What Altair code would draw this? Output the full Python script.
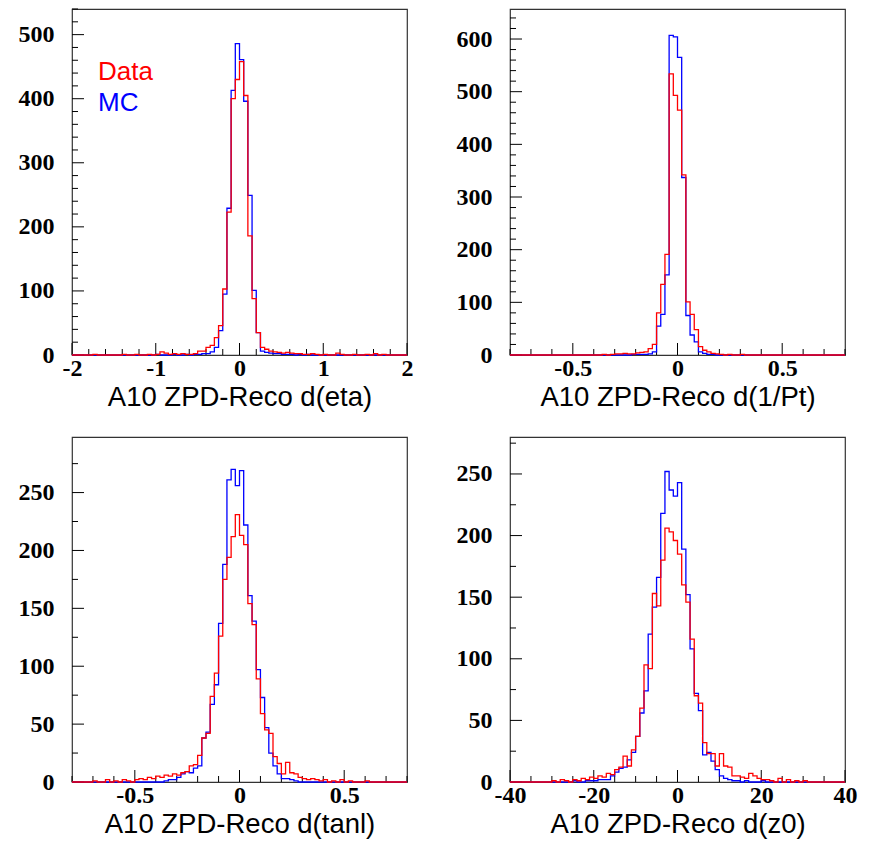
import altair as alt
import pandas as pd

# ---------------- data (bin contents) ----------------
# Panel 1: d(eta), 80 bins from -2 to 2
eta_lo, eta_hi = -2.0, 2.0
mc_eta = [0,0,0,0,0,0,0,0,0,0, 0,0,0,0,0,0,0,0,0,0,
          1,0,0,0,1,0,0,1,0,1, 1,2,2,5,12,38,95,229,413,486,
          461,396,249,101,35,6,4,3,2,2, 1,1,1,0,1,0,1,0,0,0,
          0,0,0,0,0,0,0,0,0,0, 0,0,0,0,0,0,0,0,0,0]
data_eta = [0,0,0,0,0,1,0,0,0,0, 0,0,1,0,0,1,0,0,1,0,
            1,5,3,1,2,1,2,1,1,2, 6,6,12,15,27,46,103,223,400,430,
            458,405,186,88,35,12,9,6,5,4, 3,4,3,2,2,1,1,2,1,0,
            1,0,0,3,1,0,0,1,0,0, 1,0,2,0,1,0,0,0,0,0]

# Panel 2: d(1/Pt), 80 bins from -0.8 to 0.8
pt_lo, pt_hi = -0.8, 0.8
mc_pt = [0,0,0,0,0,0,0,0,0,0, 0,0,0,0,0,0,0,0,0,0,
         0,0,0,0,0,0,0,0,0,1, 1,1,1,2,6,55,77,152,607,604,
         565,337,75,38,25,6,3,1,1,0, 0,0,0,0,0,0,0,0,0,0,
         0,0,0,0,0,0,0,0,0,0, 0,0,0,0,0,0,0,0,0,0]
data_pt = [0,0,0,0,0,0,0,0,0,0, 0,0,0,0,0,0,0,0,0,0,
           0,0,1,0,1,2,2,3,2,2, 4,5,6,12,20,80,134,191,534,493,
           465,342,101,77,48,16,9,6,3,2, 1,0,1,0,0,1,0,0,0,0,
           0,0,0,0,0,0,0,0,0,0, 0,0,0,0,0,0,0,0,0,0]

# Panel 3: d(tanl), 80 bins from -0.8 to 0.8
tl_lo, tl_hi = -0.8, 0.8
mc_tl = [0,0,0,0,0,0,0,0,0,0, 0,0,0,0,0,0,0,0,0,0,
         0,0,1,2,2,4,7,9,8,12, 14,38,43,67,84,137,188,261,270,256,
         269,222,161,139,97,73,47,25,14,7, 3,3,2,1,0,0,0,0,0,0,
         0,0,0,0,0,0,0,0,0,0, 0,0,0,0,0,0,0,0,0,0]
data_tl = [0,0,0,0,0,1,0,0,2,0, 1,0,2,1,0,2,3,2,4,3,
           5,4,6,5,7,6,8,9,14,15, 23,38,42,74,94,126,175,194,212,231,
           213,205,154,136,89,59,45,42,22,16, 7,17,8,7,4,3,2,3,2,1,
           2,0,1,0,2,0,1,0,0,0, 1,0,0,0,0,0,0,0,0,0]

# Panel 4: d(z0), 80 bins from -40 to 40
z0_lo, z0_hi = -40.0, 40.0
mc_z0 = [0,0,0,0,0,0,0,0,0,0, 0,0,0,0,0,1,0,0,1,1,
         1,2,2,2,5,8,11,12,18,24, 37,56,74,120,142,166,218,252,237,232,
         243,189,152,108,72,58,22,24,17,10, 5,3,2,1,1,0,1,0,0,0,
         1,0,0,0,0,0,0,0,0,0, 0,0,0,0,0,0,0,0,0,0]
data_z0 = [0,0,0,0,0,0,0,0,0,0, 1,0,2,1,0,2,1,3,2,4,
           3,5,4,7,6,10,12,21,13,26, 37,60,95,92,153,143,180,206,203,196,
           185,160,146,116,70,64,32,23,23,13, 23,13,12,5,5,4,3,7,5,3,
           2,2,1,0,3,0,2,0,1,0, 1,0,0,0,0,0,0,0,0,0]

titles = ["A10 ZPD-Reco d(eta)", "A10 ZPD-Reco d(1/Pt)",
          "A10 ZPD-Reco d(tanl)", "A10 ZPD-Reco d(z0)"]

W = 335
LABEL_FONT = "Liberation Serif"
TITLE_FONT = "Liberation Sans"


def hist_df(lo, hi, vals):
    n = len(vals)
    w = (hi - lo) / n
    xs = [lo + w * i for i in range(n)] + [hi]
    ys = list(vals) + [vals[-1]]
    return pd.DataFrame({"x": xs, "y": ys})


def rng(a, b, step):
    out = []
    k = 0
    while True:
        v = round(a + k * step, 6)
        if v > b + 1e-9:
            break
        out.append(v)
        k += 1
    return out


def panel(lo, hi, ymax, mc, data, title, xmaj, xstep, ymaj, ystep, H, legend=False):
    xs = alt.Scale(domain=[lo, hi], nice=False, zero=False)
    ys = alt.Scale(domain=[0, ymax], nice=False, zero=False)
    xaxis = alt.Axis(values=xmaj, title=title, ticks=False, grid=False, domain=False,
                     labelExpr="'' + datum.value", labelFont=LABEL_FONT,
                     labelFontWeight="bold", labelFontSize=24, labelColor="black",
                     labelPadding=1, labelOverlap=False, labelFlush=False,
                     titleFont=TITLE_FONT, titleFontSize=27.5, titleFontWeight="normal",
                     titleColor="black", titlePadding=3)
    yaxis = alt.Axis(values=ymaj, title=None, ticks=False, grid=False, domain=False,
                     labelExpr="'' + datum.value", labelFont=LABEL_FONT,
                     labelFontWeight="bold", labelFontSize=24, labelColor="black",
                     labelPadding=18, labelOverlap=False, labelFlush=False)
    X = alt.X("x:Q", scale=xs, axis=xaxis)
    Y = alt.Y("y:Q", scale=ys, axis=yaxis)

    mc_line = alt.Chart(hist_df(lo, hi, mc)).mark_line(
        interpolate="step-after", color="#0000ff", strokeWidth=1.3).encode(x=X, y=Y)
    data_line = alt.Chart(hist_df(lo, hi, data)).mark_line(
        interpolate="step-after", color="#ff0000", strokeWidth=1.3).encode(x=X, y=Y)

    xminor = [v for v in rng(lo, hi, xstep) if all(abs(v - m) > 1e-9 for m in xmaj)]
    yminor = [v for v in rng(0, ymax, ystep) if all(abs(v - m) > 1e-9 for m in ymaj)]

    xt_maj = alt.Chart(pd.DataFrame({"x": xmaj})).mark_rule(color="black", strokeWidth=1).encode(
        x=X, y=alt.value(H), y2=alt.value(H - 12))
    xt_min = alt.Chart(pd.DataFrame({"x": xminor})).mark_rule(color="black", strokeWidth=1).encode(
        x=X, y=alt.value(H), y2=alt.value(H - 6))
    yt_maj = alt.Chart(pd.DataFrame({"y": ymaj})).mark_rule(color="black", strokeWidth=1).encode(
        y=Y, x=alt.value(0), x2=alt.value(12))
    yt_min = alt.Chart(pd.DataFrame({"y": yminor})).mark_rule(color="black", strokeWidth=1).encode(
        y=Y, x=alt.value(0), x2=alt.value(6))

    layers = [xt_min, xt_maj, yt_min, yt_maj, mc_line, data_line]
    if legend:
        one = pd.DataFrame({"a": [0]})
        t1 = alt.Chart(one).mark_text(text="Data", color="#ff0000", font=TITLE_FONT,
                                      fontSize=26, align="left", baseline="middle").encode(
            x=alt.value(26), y=alt.value(63))
        t2 = alt.Chart(one).mark_text(text="MC", color="#0000ff", font=TITLE_FONT,
                                      fontSize=26, align="left", baseline="middle").encode(
            x=alt.value(26), y=alt.value(94))
        layers += [t1, t2]
    return alt.layer(*layers).properties(width=W, height=H)


p1 = panel(eta_lo, eta_hi, 540, mc_eta, data_eta, titles[0],
           [-2, -1, 0, 1, 2], 0.2, [0, 100, 200, 300, 400, 500], 20, 346, legend=True)
p2 = panel(pt_lo, pt_hi, 657, mc_pt, data_pt, titles[1],
           [-0.5, 0, 0.5], 0.1, [0, 100, 200, 300, 400, 500, 600], 20, 346)
p3 = panel(tl_lo, tl_hi, 298, mc_tl, data_tl, titles[2],
           [-0.5, 0, 0.5], 0.1, [0, 50, 100, 150, 200, 250], 25, 345)
p4 = panel(z0_lo, z0_hi, 280, mc_z0, data_z0, titles[3],
           [-40, -20, 0, 20, 40], 5, [0, 50, 100, 150, 200, 250], 25, 345)

chart = alt.concat(p1, p2, p3, p4, columns=2, bounds="flush",
                   spacing=alt.RowColnumber(column=103, row=82)).properties(
    padding={"left": 17, "top": 7, "right": 0, "bottom": 0},
    background="white",
).configure_view(stroke="#333333", strokeWidth=1.2)

chart.save("out.html", embed_options={"renderer": "svg", "actions": False})
